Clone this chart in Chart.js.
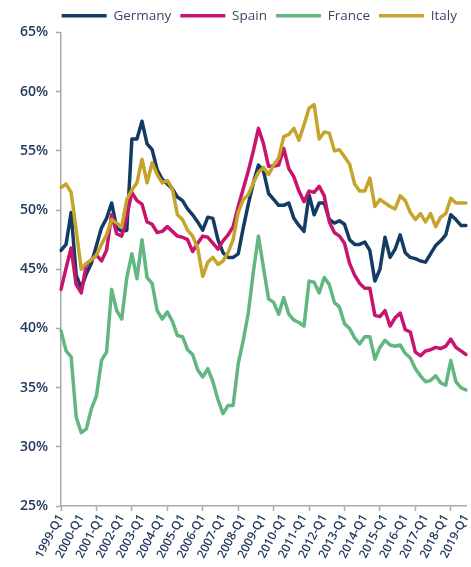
<!DOCTYPE html>
<html>
<head>
<meta charset="utf-8">
<script src="https://cdn.jsdelivr.net/npm/chart.js@4.4.1/dist/chart.umd.min.js"></script>
<style>
  html, body { margin: 0; padding: 0; background: #fff; }
</style>
</head>
<body>
<canvas id="chart" width="471" height="567"></canvas>
<script>
'use strict';

/* Quarterly shares (%), 1999-Q1 .. 2019-Q1 */
const germany = [
  46.6, 47.1, 49.8, 44.5, 43.4, 44.6, 45.5, 47.0, 48.5, 49.3, 50.6, 48.5, 48.2, 48.3, 56.0, 56.0, 57.5, 55.6, 55.1, 53.4, 52.6,
  52.2, 51.8, 51.1, 50.8, 50.1, 49.6, 49.0, 48.3, 49.4, 49.3, 47.5, 46.4, 46.0, 46.0, 46.3,
  48.5, 50.5, 52.3, 53.8, 53.3, 51.4, 50.9, 50.4, 50.4, 50.6, 49.3, 48.7, 48.2, 51.3, 49.6, 50.6, 50.6,
  49.2, 48.9, 49.1, 48.8, 47.5, 47.1, 47.1, 47.3, 46.6, 44.0, 45.0, 47.7, 46.0, 46.7, 47.9,
  46.4, 46.0, 45.9, 45.7, 45.6, 46.3, 47.0, 47.4, 47.9, 49.6, 49.2, 48.7, 48.7
];
const spain = [
  43.3, 45.1, 46.8, 43.7, 43.0, 45.4, 45.8, 46.2, 45.7, 46.6, 49.6, 48.0, 47.8, 49.5, 51.5, 50.8, 50.5, 49.0, 48.8, 48.1, 48.2,
  48.6, 48.2, 47.8, 47.7, 47.5, 46.5, 47.2, 47.8, 47.7, 47.2, 46.7, 47.4, 47.9, 48.6, 50.3,
  51.8, 53.3, 55.0, 56.9, 55.6, 53.7, 53.7, 53.8, 55.2, 53.5, 52.8, 51.6, 50.7, 51.6, 51.5, 52.0, 51.2,
  49.0, 48.1, 47.8, 47.2, 45.5, 44.5, 43.8, 43.4, 43.4, 41.1, 41.0, 41.5, 40.2, 40.9, 41.3,
  39.9, 39.7, 38.0, 37.7, 38.1, 38.2, 38.4, 38.3, 38.5, 39.1, 38.4, 38.1, 37.8
];
const france = [
  39.8, 38.1, 37.6, 32.5, 31.2, 31.5, 33.2, 34.3, 37.3, 38.0, 43.3, 41.5, 40.8, 44.3, 46.3, 44.2, 47.5, 44.3, 43.8, 41.5, 40.8,
  41.4, 40.6, 39.4, 39.3, 38.2, 37.8, 36.5, 35.9, 36.6, 35.5, 34.0, 32.8, 33.5, 33.5, 37.0,
  39.0, 41.3, 44.8, 47.8, 45.1, 42.5, 42.2, 41.2, 42.6, 41.2, 40.7, 40.5, 40.2, 44.0, 43.9, 43.0, 44.3,
  43.7, 42.2, 41.8, 40.4, 40.0, 39.2, 38.7, 39.3, 39.3, 37.4, 38.4, 39.0, 38.6, 38.5, 38.6,
  37.9, 37.5, 36.6, 36.0, 35.5, 35.6, 36.0, 35.4, 35.2, 37.3, 35.5, 35.0, 34.8
];
const italy = [
  51.9, 52.2, 51.5, 48.3, 45.0, 45.5, 45.8, 46.2, 47.1, 47.9, 49.2, 48.9, 48.6, 50.9, 51.7, 52.3, 54.3, 52.3, 54.0, 53.0, 52.3,
  52.5, 51.8, 49.6, 49.2, 48.3, 47.8, 46.8, 44.4, 45.6, 46.0, 45.4, 45.7, 46.4, 47.5, 49.8,
  50.9, 51.3, 52.3, 53.2, 53.6, 53.0, 53.8, 54.4, 56.2, 56.4, 56.9, 55.9, 57.2, 58.6, 58.9, 56.0, 56.6,
  56.5, 55.0, 55.1, 54.5, 53.9, 52.2, 51.6, 51.6, 52.7, 50.3, 50.9, 50.6, 50.3, 50.1, 51.2,
  50.8, 49.8, 49.2, 49.7, 49.0, 49.7, 48.6, 49.4, 49.7, 51.0, 50.6, 50.6, 50.6
];

/* Category labels: one per quarter */
const quarters = [];
for (let y = 1999; y <= 2019; y++) {
  for (let q = 1; q <= 4; q++) quarters.push(`${y}-Q${q}`);
}
const labels = quarters.slice(0, germany.length);

const yTicks = [25, 30, 35, 40, 45, 50, 55, 60, 65];

const C_GERMANY = '#143b63';
const C_SPAIN   = '#c8146e';
const C_FRANCE  = '#62b781';
const C_ITALY   = '#c6a42b';
const C_AXIS    = '#a9a9a9';
const C_TEXT    = '#223a5e';

function series(label, data, color, order) {
  return {
    label, data, order,
    borderColor: color,
    backgroundColor: color,
    borderWidth: 3.5,
    borderCapStyle: 'round',
    borderJoinStyle: 'round',
    pointRadius: 0,
    pointHoverRadius: 0,
    tension: 0,
    fill: false,
  };
}

new Chart(document.getElementById('chart'), {
  type: 'line',
  data: {
    labels,
    datasets: [
      series('Germany', germany, C_GERMANY, 4),
      series('Spain',   spain,   C_SPAIN,   3),
      series('France',  france,  C_FRANCE,  2),
      series('Italy',   italy,   C_ITALY,   1),
    ],
  },
  options: {
    responsive: false,
    animation: false,
    layout: { padding: { left: 0, right: 5, top: 0, bottom: 0 } },
    plugins: {
      tooltip: { enabled: false },
      legend: {
        position: 'top',
        align: 'end',
        labels: {
          usePointStyle: true,
          pointStyle: 'line',
          pointStyleWidth: 45,
          padding: 9,
          color: '#3a4868',
          font: { family: 'Open Sans', size: 13.5 },
          sort: (a, b) => a.datasetIndex - b.datasetIndex,
        },
      },
    },
    scales: {
      x: {
        type: 'category',
        offset: false,
        border: { display: true, color: C_AXIS, width: 1.5 },
        grid: {
          drawOnChartArea: false,
          drawTicks: true,
          tickLength: 5,
          offset: false,
          tickColor: (ctx) => (ctx.index % 7 === 0 ? C_AXIS : 'rgba(0,0,0,0)'),
          tickWidth: 1.5,
        },
        ticks: {
          autoSkip: false,
          minRotation: 62,
          maxRotation: 62,
          padding: 1,
          color: C_TEXT,
          font: { family: 'Open Sans', size: 12, weight: '600' },
          callback: (v, i) => (i % 4 === 0 ? labels[i] : ''),
        },
        afterFit: (scale) => {
          scale.height = 61;
          scale.paddingLeft = 0;
          scale.paddingRight = 0;
        },
      },
      y: {
        min: 25,
        max: 65,
        border: { display: true, color: C_AXIS, width: 1.5 },
        grid: {
          drawOnChartArea: false,
          drawTicks: true,
          tickLength: 5,
          color: C_AXIS,
          tickWidth: 1.5,
        },
        afterBuildTicks: (scale) => {
          scale.ticks = yTicks.map(v => ({ value: v }));
        },
        ticks: {
          padding: 8,
          color: C_TEXT,
          font: { family: 'Open Sans', size: 14, weight: '600' },
          callback: (v) => v + '%',
        },
        afterFit: (scale) => { scale.width = 61; },
      },
    },
  },
});
</script>
</body>
</html>
